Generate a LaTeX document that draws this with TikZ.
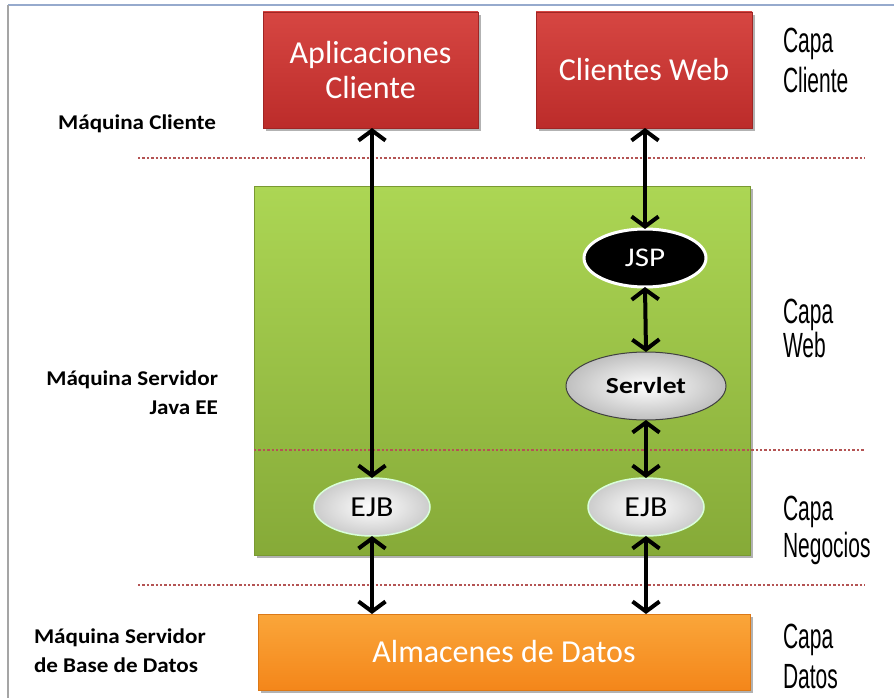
\documentclass[tikz,border=0pt]{standalone}
\usepackage{graphicx}
\usepackage{fontspec}
\setmainfont{Carlito}
\newfontfamily\capafont{Liberation Sans}
\usetikzlibrary{shapes.geometric,arrows.meta,shadows}
\definecolor{redtop}{RGB}{214,70,66}
\definecolor{redbot}{RGB}{188,44,42}
\definecolor{greentop}{RGB}{172,214,84}
\definecolor{greenbot}{RGB}{134,170,56}
\definecolor{orangetop}{RGB}{250,166,58}
\definecolor{orangebot}{RGB}{244,134,26}
\definecolor{dotred}{RGB}{180,84,84}
\definecolor{frametop}{RGB}{150,170,205}
\definecolor{frameleft}{RGB}{165,165,165}
\newcommand\hx[2]{\scalebox{#1}[1]{#2}}
\begin{document}
\begin{tikzpicture}[x=1pt,y=-1pt,
  every node/.style={inner sep=0pt, outer sep=0pt},
  shadowed/.style={drop shadow={shadow xshift=3pt,shadow yshift=-3pt,opacity=0.3,fill=black}},
  boxbase/.style={rectangle, text=white, align=center, font=\fontsize{32}{35}\selectfont, shadowed},
  redbox/.style={boxbase, top color=redtop, bottom color=redbot, draw=redbot!85!black, line width=0.6pt},
  greenbox/.style={rectangle, top color=greentop, bottom color=greenbot, draw=greenbot!90!black, line width=0.6pt, shadowed},
  orangebox/.style={boxbase, top color=orangetop, bottom color=orangebot, draw=orangebot!90!black, line width=0.6pt},
  ejbnode/.style={ellipse, minimum width=116pt, minimum height=58pt, inner color=white, outer color=black!20, draw=white!85!green, line width=1.5pt, font=\fontsize{29}{32}\selectfont},
  jspnode/.style={ellipse, minimum width=122pt, minimum height=58pt, fill=black, draw=white, line width=3pt, text=white, font=\fontsize{27}{30}\selectfont},
  servnode/.style={ellipse, minimum width=160pt, minimum height=68pt, inner color=white, outer color=black!25, draw=black!75, line width=1pt, font=\bfseries\fontsize{23}{26}\selectfont},
  biarrow/.style={line width=4pt, arrows={Straight Barb[length=10pt,width=27pt]-Straight Barb[length=10pt,width=27pt]}},
  dotline/.style={dotred, line width=2.6pt, dash pattern=on 2.4pt off 2pt},
  leftlab/.style={font=\bfseries\fontsize{21}{29}\selectfont, xscale=1.1},
  capalab/.style={anchor=base west, align=left, xscale=0.6, font=\capafont\fontsize{35}{40}\selectfont}
]
\useasboundingbox (0,0) rectangle (894,698);
\fill[white] (0,0) rectangle (894,698);

% frame
\coordinate (ftr) at (894,5);
\coordinate (ftl) at (8,5);
\coordinate (fbl) at (8,698);
\draw[frametop, line width=2pt] (ftr) -- (ftl);
\draw[frameleft, line width=2pt] (ftl) -- (fbl);

% main boxes
\node[redbox, minimum width=215pt, minimum height=116pt] (apc) at (370.5,70) {Aplicaciones\\Cliente};
\node[redbox, minimum width=216pt, minimum height=116pt] (cw) at (644,70) {Clientes Web};
\node[greenbox, minimum width=496pt, minimum height=369pt] (green) at (502,370.5) {};
\node[orangebox, minimum width=492pt, minimum height=76pt] (alm) at (504,652) {Almacenes de Datos};

% dotted separators
\coordinate (d1l) at (138,158); \coordinate (d1r) at (865,158);
\coordinate (d2l) at (254,450); \coordinate (d2r) at (865,450);
\coordinate (d3l) at (138,585); \coordinate (d3r) at (865,585);
\draw[dotline] (d1l) -- (d1r);
\draw[dotline] (d2l) -- (d2r);
\draw[dotline] (d3l) -- (d3r);

% inner nodes
\node[jspnode] (jsp) at (645,258) {\hx{1.15}{JSP}};
\node[servnode] (serv) at (646,386) {\hx{1.2}{Servlet}};
\node[ejbnode] (ejb1) at (372,507) {\hx{1.1}{EJB}};
\node[ejbnode] (ejb2) at (646,507) {\hx{1.1}{EJB}};

% connectors
\draw[biarrow] (ejb1.north |- apc.south) -- (ejb1.north);
\draw[biarrow] (ejb1.south) -- (ejb1.south |- alm.north);
\draw[biarrow] (jsp.north |- cw.south) -- (jsp.north);
\draw[biarrow] (jsp.south) -- (serv.north);
\draw[biarrow] (serv.south) -- (ejb2.north);
\draw[biarrow] (ejb2.south) -- (ejb2.south |- alm.north);

% left labels
\node[leftlab, anchor=east] (mc) at (216,124) {Máquina Cliente};
\node[leftlab, anchor=east, align=right] (ms) at (218,393) {Máquina Servidor\\Java EE};
\node[leftlab, anchor=west, align=left] (mb) at (34,651) {Máquina Servidor\\de Base de Datos};

% right labels (anchor = baseline of last line)
\node[capalab] (cc) at (783,93) {Capa\\Cliente};
\node[capalab, font=\capafont\fontsize{35}{31}\selectfont] (cwb) at (783,357) {Capa\\Web};
\node[capalab, font=\capafont\fontsize{35}{37}\selectfont] (cn) at (783,557) {Capa\\Negocios};
\node[capalab, font=\capafont\fontsize{35}{40}\selectfont] (cd) at (783,688) {Capa\\Datos};
\end{tikzpicture}
\end{document}
